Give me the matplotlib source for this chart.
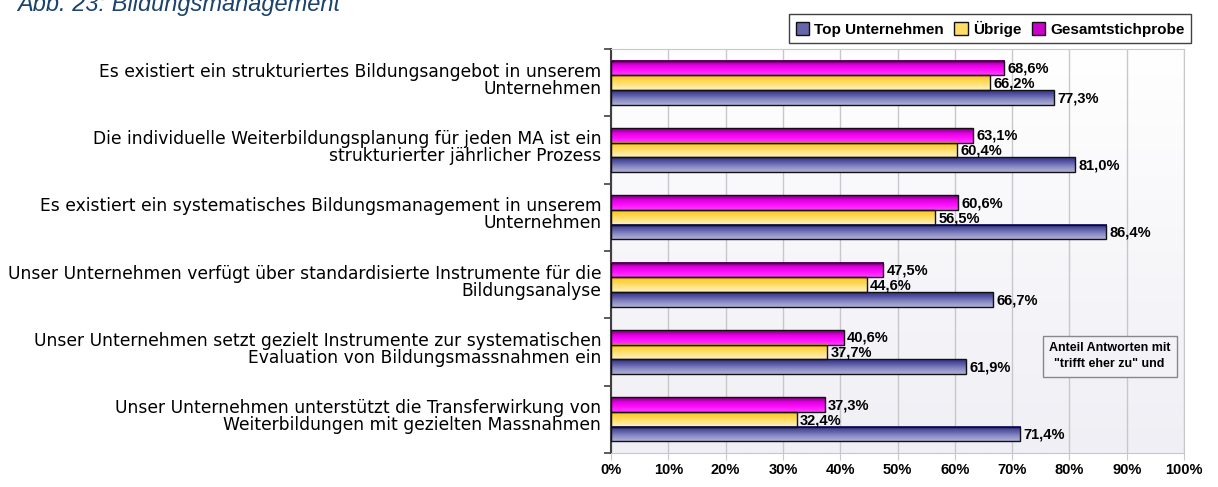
import numpy as np
import matplotlib
matplotlib.use('Agg')
import matplotlib.pyplot as plt
from matplotlib.colors import LinearSegmentedColormap
from matplotlib.patches import Patch

plt.rcParams['font.family'] = ['Liberation Sans', 'DejaVu Sans']

# Data
categories = [
    'Es existiert ein strukturiertes Bildungsangebot in unserem\nUnternehmen',
    'Die individuelle Weiterbildungsplanung für jeden MA ist ein\nstrukturierter jährlicher Prozess',
    'Es existiert ein systematisches Bildungsmanagement in unserem\nUnternehmen',
    'Unser Unternehmen verfügt über standardisierte Instrumente für die\nBildungsanalyse',
    'Unser Unternehmen setzt gezielt Instrumente zur systematischen\nEvaluation von Bildungsmassnahmen ein',
    'Unser Unternehmen unterstützt die Transferwirkung von\nWeiterbildungen mit gezielten Massnahmen',
]
series_names = ['Top Unternehmen', 'Übrige', 'Gesamtstichprobe']
top_vals = [77.3, 81.0, 86.4, 66.7, 61.9, 71.4]
uebrige_vals = [66.2, 60.4, 56.5, 44.6, 37.7, 32.4]
gesamt_vals = [68.6, 63.1, 60.6, 47.5, 40.6, 37.3]

# gradients (top -> bottom of each bar)
grad_top = ['#2e2e80', '#5a5aa8', '#8c8cc4', '#b0b0da']
grad_ueb = ['#ffc21a', '#ffd54a', '#ffe586', '#fff1bf']
grad_ges = ['#6e006e', '#e000e0', '#ff10ff', '#ff40ff']
solid = {'Top Unternehmen': '#6666aa', 'Übrige': '#ffdd66', 'Gesamtstichprobe': '#cc00cc'}

fig = plt.figure(figsize=(12.18, 4.87), dpi=100)
pos = [611/1218, 1 - 453/487, (1184-611)/1218, (453-49)/487]

# background gradient of the plot area
bg = fig.add_axes(pos, zorder=-1)
bg_cmap = LinearSegmentedColormap.from_list('bg', ['#ffffff', '#efeff5'])
bg.imshow(np.linspace(0, 1, 256).reshape(-1, 1), cmap=bg_cmap, aspect='auto',
          extent=(0, 1, 0, 1), origin='upper')
bg.axis('off')

ax = fig.add_axes(pos)
ax.patch.set_alpha(0)

n = len(categories)
y = np.arange(n)
h = 0.218
series = [(gesamt_vals, -h, grad_ges), (uebrige_vals, 0, grad_ueb), (top_vals, h, grad_top)]

grad = np.linspace(0, 1, 64).reshape(-1, 1)
for vals, off, cols in series:
    cmap = LinearSegmentedColormap.from_list('g', cols)
    for yi, v in zip(y, vals):
        yc = yi + off
        ax.imshow(grad, cmap=cmap, aspect='auto', origin='upper',
                  extent=(0, v, yc + h/2, yc - h/2), zorder=2)
        ax.text(v + 0.6, yc + 0.01, f'{v:.1f}%'.replace('.', ','), va='center',
                ha='left', fontsize=10.5, fontweight='bold', zorder=4)
    ax.barh(y + off, vals, height=h, facecolor='none', edgecolor='#111111',
            linewidth=1.0, zorder=3)

ax.set_xlim(0, 100)
ax.set_ylim(n - 0.5, -0.5)
ax.set_xticks(np.arange(0, 101, 10))
ax.set_xticklabels([f'{t}%' for t in range(0, 101, 10)], fontsize=10.5, fontweight='bold')
ax.xaxis.grid(True, color='#c8c8cc', linewidth=1, zorder=1)
ax.set_axisbelow(True)
ax.tick_params(axis='x', length=5, color='#c8c8cc', pad=2)

ax.set_yticks(y - 0.06)
ax.set_yticklabels(categories, fontsize=12.3, linespacing=0.92,
                   family=['DejaVu Sans'])
ax.set_yticks(np.arange(-0.5, n, 1), minor=True)
ax.tick_params(axis='y', which='major', length=0, pad=7)
ax.tick_params(axis='y', which='minor', length=5, color='#404040', width=1.2)

for s in ['top', 'right', 'bottom']:
    ax.spines[s].set_color('#c8c8cc')
ax.spines['left'].set_color('#404040')
ax.spines['left'].set_linewidth(1.5)

# legend
handles = [Patch(facecolor=solid[s], edgecolor='#111111', label=s) for s in series_names]
fig.legend(handles=handles, loc='center', bbox_to_anchor=(990/1218, 1 - 28.5/487),
           ncol=3, frameon=True, fancybox=False, edgecolor='#111111',
           prop={'weight': 'bold', 'size': 11}, handlelength=0.9, handleheight=0.9,
           handletextpad=0.3, columnspacing=0.7, borderpad=0.45)

# note box
ax.text(0.87, 0.24, 'Anteil Antworten mit\n"trifft eher zu" und', transform=ax.transAxes,
        ha='center', va='center', fontsize=9, fontweight='bold', linespacing=1.5,
        bbox=dict(boxstyle='square,pad=0.5', facecolor='#f3f3f7', edgecolor='#888888'),
        zorder=5)

# title (clipped at top like the original)
fig.text(17/1218, 1 - 11/487, 'Abb. 23: Bildungsmanagement', fontsize=17, style='italic',
         color='#1c426e', va='baseline', ha='left')

fig.savefig('out.png', dpi=100)
